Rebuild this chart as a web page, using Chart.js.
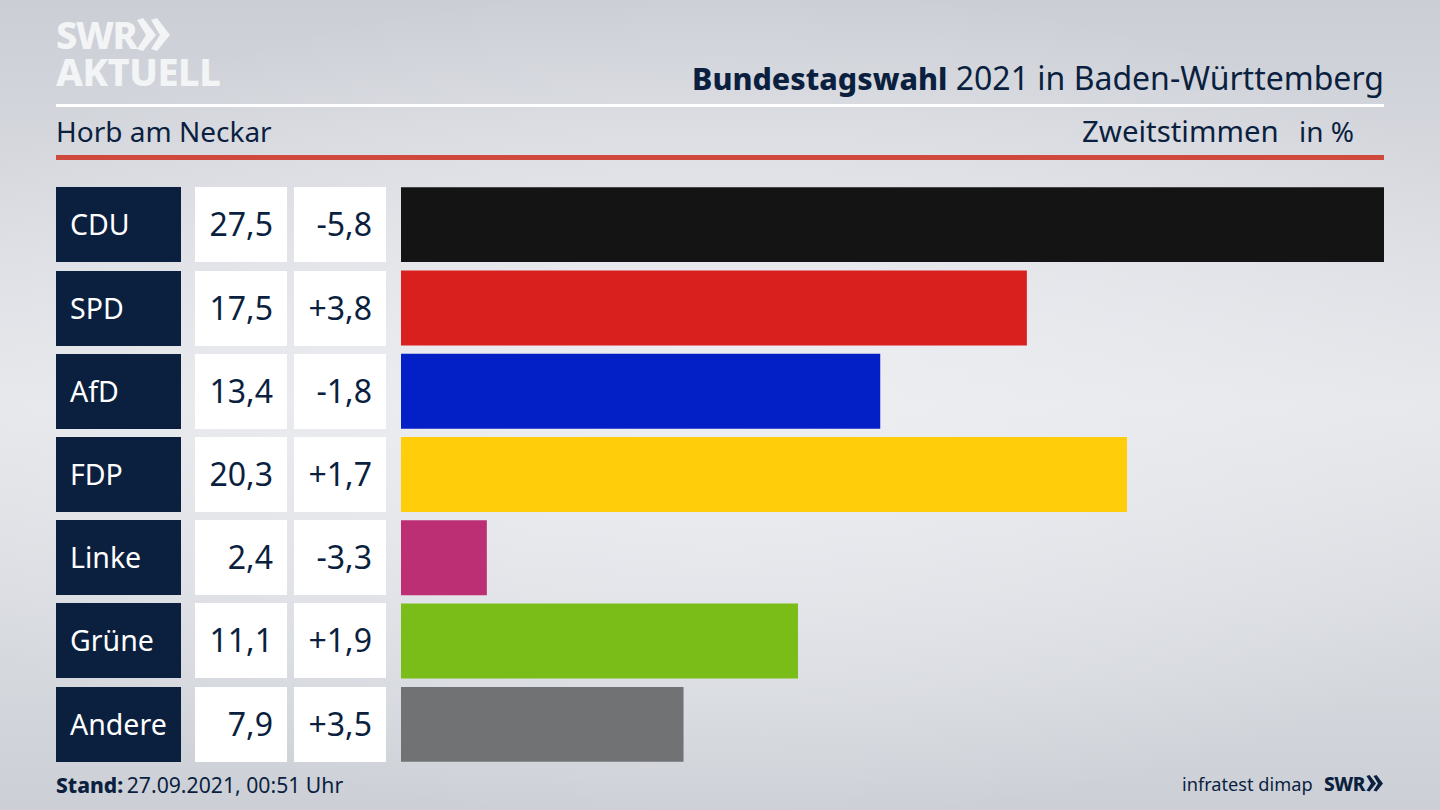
<!DOCTYPE html>
<html lang="de">
<head>
<meta charset="utf-8">
<title>Bundestagswahl 2021 in Baden-Württemberg</title>
<script src="https://cdn.jsdelivr.net/npm/chart.js@4/dist/chart.umd.min.js"></script>
<style>
    html, body { margin: 0; padding: 0; }
    body {
        position: relative;
        width: 1440px;
        height: 810px;
        overflow: hidden;
        font-family: 'Noto Sans', sans-serif;
        color: #0b1f3f;
        background: radial-gradient(ellipse 900px 420px at 50% 50%, rgba(238,239,243,0.9), rgba(238,239,243,0) 100%),
                    linear-gradient(180deg, #cbced5 0%, #e6e7eb 50%, #ccd0d6 100%);
    }
    .abs { position: absolute; white-space: nowrap; }
    .logo { left: 56px; color: #f2f4f6; font-weight: 800; line-height: 1; }
    .rule { position: absolute; left: 56px; width: 1328px; }
    .row { position: absolute; left: 56px; height: 75px; }
    .cell { position: absolute; top: 0; height: 75px; line-height: 74px; font-size: 32px; box-sizing: border-box; }
    .party { left: 0; width: 125px; background: #0b1f3f; color: #fff; padding-left: 14px; font-size: 28.5px; }
    .share { left: 139px; width: 92px; background: #fff; text-align: right; padding-right: 14px; }
    .change { left: 238px; width: 92px; background: #fff; text-align: right; padding-right: 14px; }
    #chartBox { position: absolute; left: 400.5px; top: 183px; width: 983.5px; height: 583px; }
</style>
</head>
<body>
    <div class="abs logo" style="top:15px; font-size:38px; letter-spacing:-1.5px;">SWR</div>
    <svg class="abs" style="left:137px; top:18px;" width="34" height="34" viewBox="0 0 34 34">
        <path fill="#f2f4f6" d="M0 2 L6 0 L19 17 L6 33 L0 31 L9 17 Z M14 2 L20 0 L33 17 L20 33 L14 31 L23 17 Z"/>
    </svg>
    <div class="abs logo" style="top:52px; font-size:38px; letter-spacing:-0.5px;">AKTUELL</div>

    <div class="abs" style="right:56px; top:56px; font-size:32px; line-height:44px;"><b style="font-weight:800; font-size:30.4px;">Bundestagswahl</b> 2021 in Baden-Württemberg</div>
    <div class="rule" style="top:104px; height:3px; background:#fff;"></div>
    <div class="abs" style="left:56px; top:111px; font-size:28px; line-height:40px;">Horb am Neckar</div>
    <div class="abs" style="left:1082px; top:111px; font-size:29.4px; line-height:40px;">Zweitstimmen</div>
    <div class="abs" style="left:1299px; top:111px; font-size:28px; line-height:40px;">in %</div>
    <div class="rule" style="top:155px; height:5px; background:#cf4a3c;"></div>

    <div id="rows"></div>
    <div id="chartBox"><canvas id="barChart"></canvas></div>

    <div class="abs" style="left:56px; top:770px; font-size:21.2px; line-height:30px;"><b style="font-weight:800; font-size:21px; margin-right:-2px;">Stand:</b> 27.09.2021, 00:51 Uhr</div>
    <div class="abs" style="left:1182px; top:769px; font-size:18.2px; line-height:30px;">infratest dimap</div>
    <div class="abs" style="left:1324px; top:769px; font-size:19px; line-height:30px; font-weight:800; letter-spacing:-0.5px;">SWR</div>
    <svg class="abs" style="left:1366px; top:775px;" width="18" height="17" viewBox="0 0 34 34">
        <path fill="#0b1f3f" d="M0 2 L6 0 L19 17 L6 33 L0 31 L9 17 Z M14 2 L20 0 L33 17 L20 33 L14 31 L23 17 Z"/>
    </svg>

<script>
const parties = ['CDU', 'SPD', 'AfD', 'FDP', 'Linke', 'Grüne', 'Andere'];
const shares = [27.5, 17.5, 13.4, 20.3, 2.4, 11.1, 7.9];
const changes = [-5.8, 3.8, -1.8, 1.7, -3.3, 1.9, 3.5];
const barColors = ['#141414', '#da201f', '#0220c6', '#ffcd0a', '#bd2f74', '#7abd18', '#717274'];

// 1. Table cells left of the bars
function formatShare(v) {
    return v.toFixed(1).replace('.', ',');
}

function formatChange(v) {
    return (v > 0 ? '+' : '') + formatShare(v);
}

document.getElementById('rows').innerHTML = parties.map((p, i) => `
    <div class="row" style="top:${187.3 + i * 83.2}px">
        <div class="cell party">${p}</div>
        <div class="cell share">${formatShare(shares[i])}</div>
        <div class="cell change">${formatChange(changes[i])}</div>
    </div>
`).join('');

// 2. Bars
new Chart(document.getElementById('barChart').getContext('2d'), {
    type: 'bar',
    data: {
        labels: parties,
        datasets: [{
            data: shares,
            backgroundColor: barColors,
            borderWidth: 0,
            categoryPercentage: 1,
            barPercentage: 0.9
        }]
    },
    options: {
        indexAxis: 'y',
        responsive: true,
        maintainAspectRatio: false,
        animation: false,
        layout: { padding: 0 },
        plugins: { legend: { display: false }, tooltip: { enabled: false } },
        scales: {
            x: { display: false, min: 0, max: 27.5 },
            y: { display: false }
        }
    }
});
</script>
</body>
</html>
